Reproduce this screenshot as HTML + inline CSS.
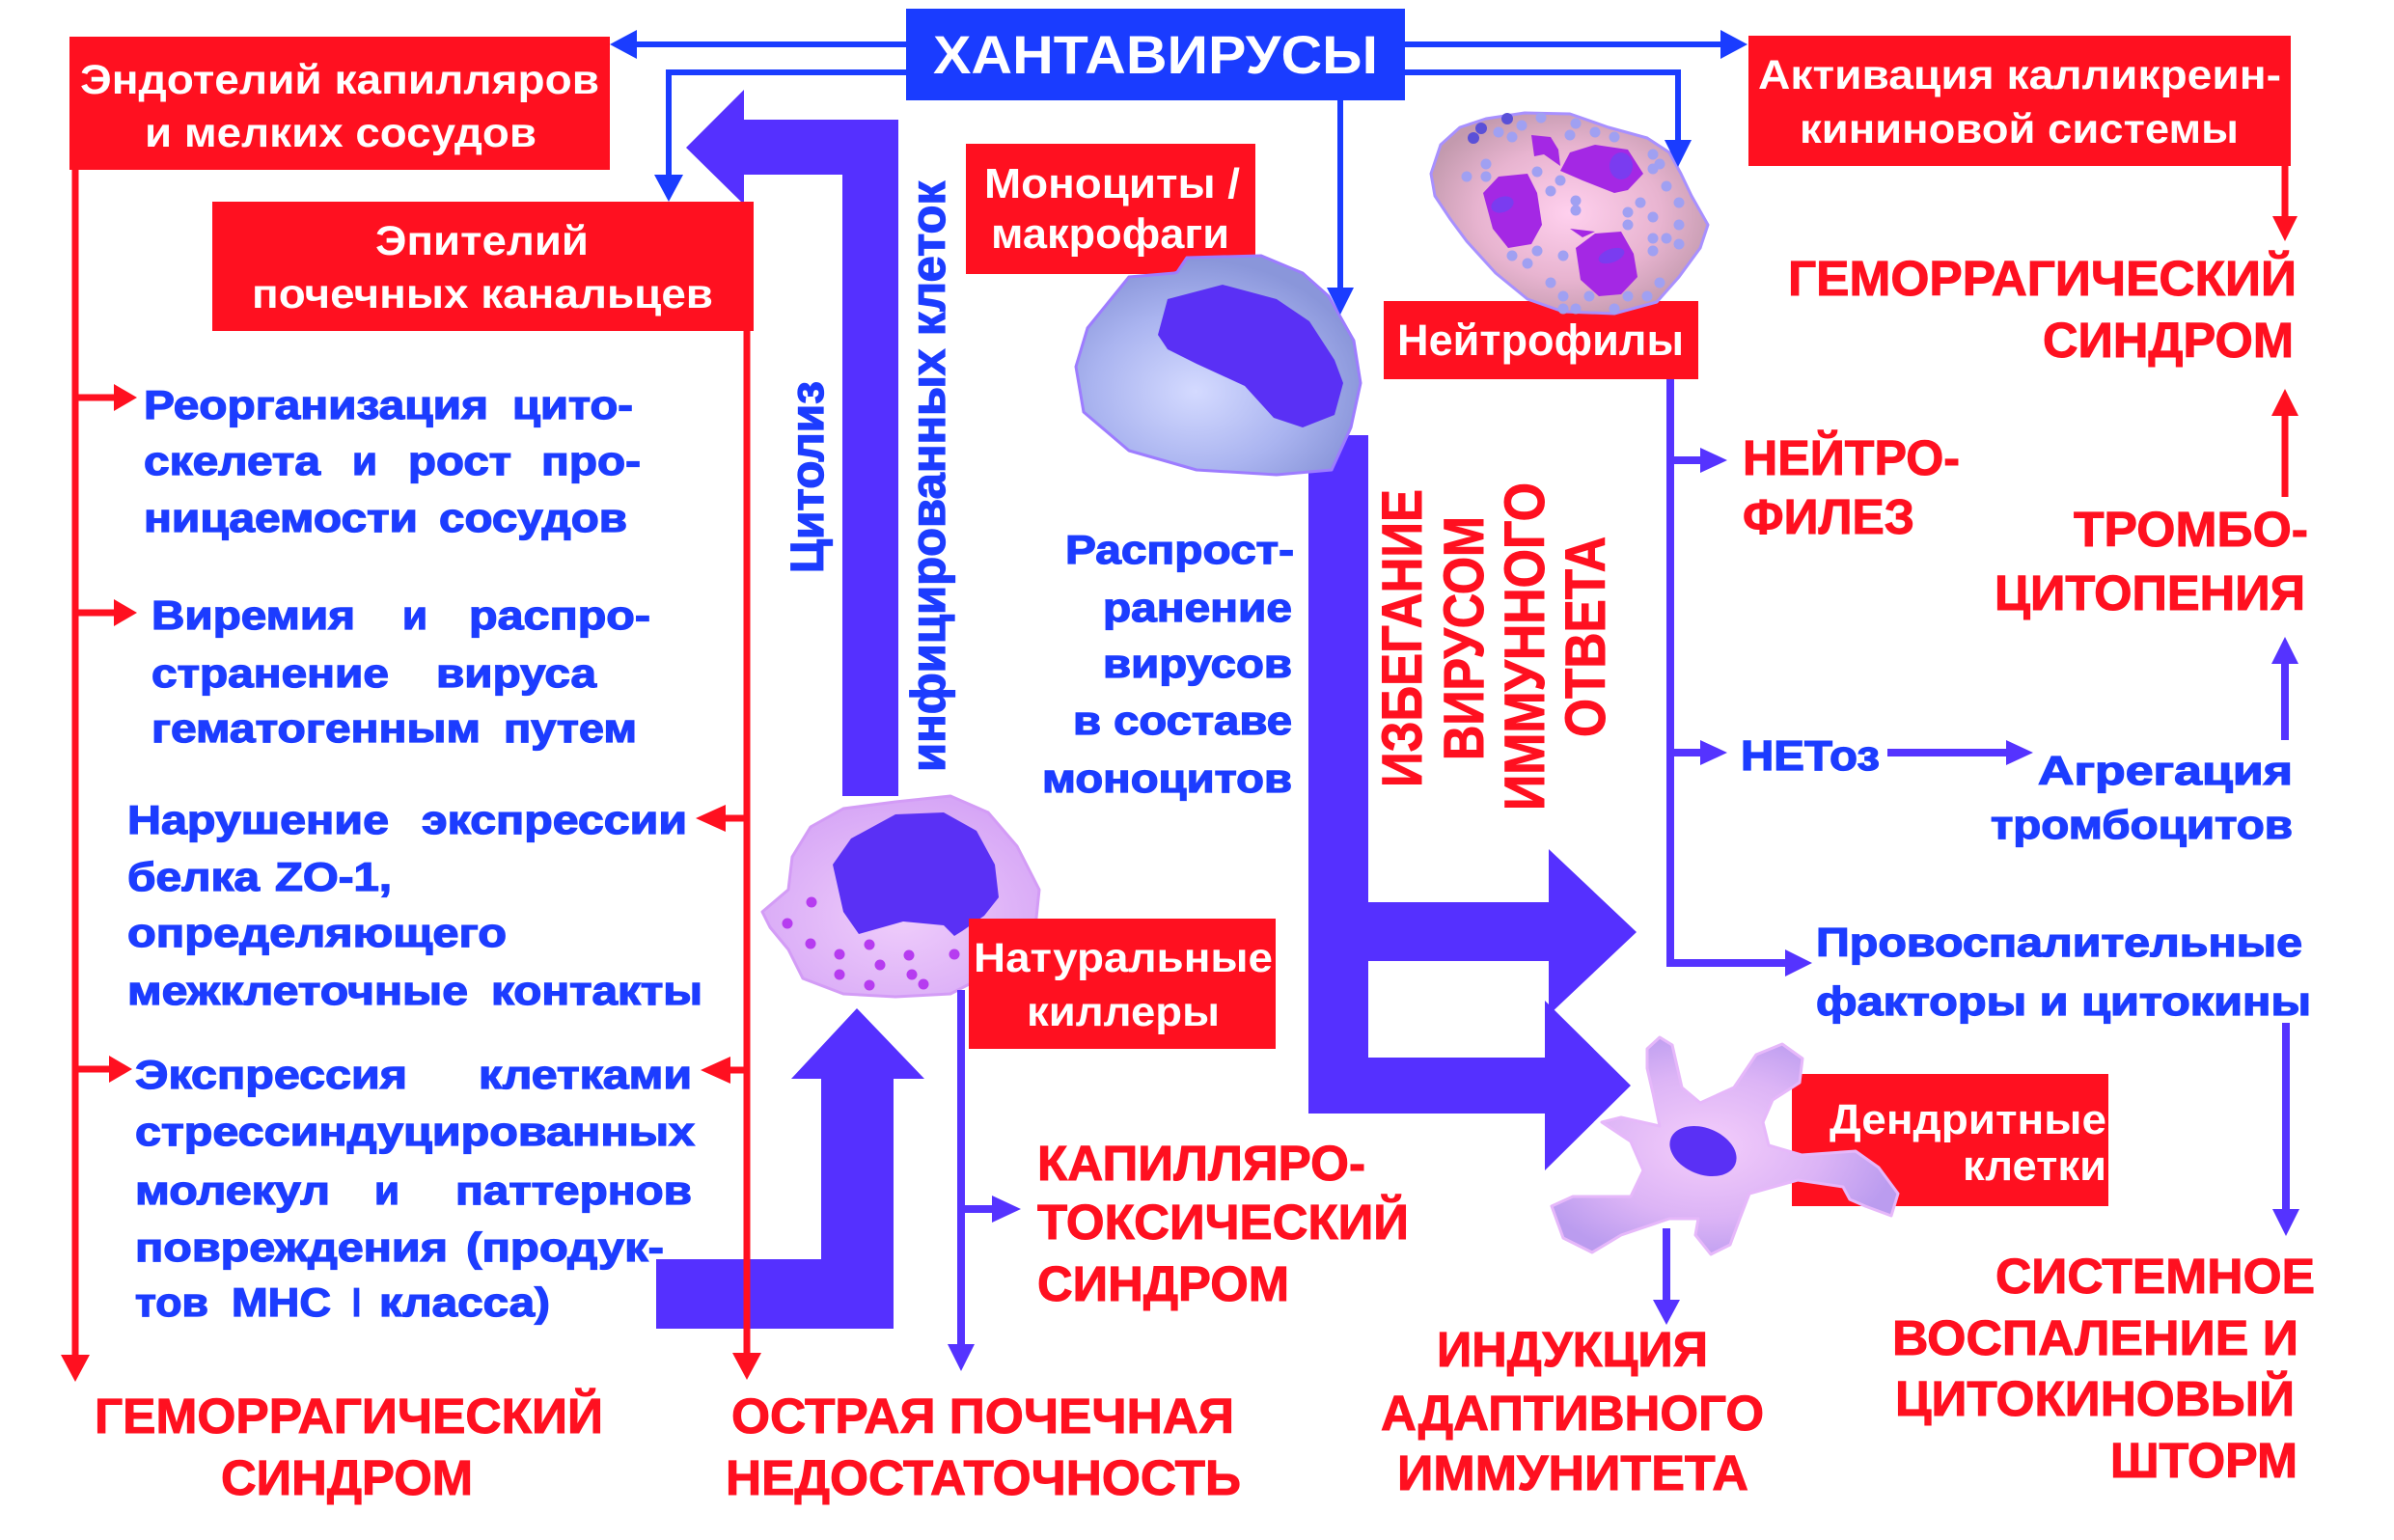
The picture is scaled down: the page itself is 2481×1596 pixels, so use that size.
<!DOCTYPE html>
<html><head><meta charset="utf-8"><style>
html,body{margin:0;padding:0;background:#fff;}
svg{display:block;}
text{font-family:"Liberation Sans",Arial,sans-serif;font-weight:bold;}
</style></head><body>
<svg width="2481" height="1596" viewBox="0 0 2481 1596" xmlns="http://www.w3.org/2000/svg">
<defs>
<radialGradient id="gMono" cx="0.42" cy="0.62" r="0.6"><stop offset="0" stop-color="#d4daff"/><stop offset="0.6" stop-color="#aab4f0"/><stop offset="1" stop-color="#8a96da"/></radialGradient>
<radialGradient id="gNeu" cx="0.5" cy="0.5" r="0.55"><stop offset="0" stop-color="#ffd0ee"/><stop offset="0.6" stop-color="#e8b4d0"/><stop offset="1" stop-color="#c39aae"/></radialGradient>
<radialGradient id="gNK" cx="0.5" cy="0.6" r="0.6"><stop offset="0" stop-color="#efcdfb"/><stop offset="1" stop-color="#d6a6f6"/></radialGradient>
<radialGradient id="gDC" cx="0.45" cy="0.5" r="0.55"><stop offset="0" stop-color="#f4cdfb"/><stop offset="0.6" stop-color="#dcb4f6"/><stop offset="1" stop-color="#bb9cef"/></radialGradient>
</defs>

<!-- big purple arrows -->
<polygon fill="#5530ff" points="711,153 771,93 771,124 931,124 931,825 873,825 873,181 771,181 771,212"/>
<polygon fill="#5530ff" points="680,1305 851,1305 851,1118 820,1118 888,1045 958,1118 926,1118 926,1377 680,1377"/>
<polygon fill="#5530ff" points="1356,451 1418,451 1418,935 1605,935 1605,880 1696,966 1605,1052 1605,996 1418,996 1418,1096 1601,1096 1601,1037 1690,1125 1601,1213 1601,1154 1356,1154"/>

<!-- boxes -->
<rect x="939" y="9" width="517" height="95" fill="#1a3cff"/>
<rect x="72" y="38" width="560" height="138" fill="#ff1020"/>
<rect x="220" y="209" width="561" height="134" fill="#ff1020"/>
<rect x="1001" y="149" width="300" height="135" fill="#ff1020"/>
<rect x="1434" y="312" width="326" height="81" fill="#ff1020"/>
<rect x="1812" y="37" width="562" height="135" fill="#ff1020"/>
<rect x="1857" y="1113" width="328" height="137" fill="#ff1020"/>

<!-- NK cell (under its box) -->
<polygon fill="url(#gNK)" stroke="#d39cf6" stroke-width="3" stroke-linejoin="round" points="790,945 817,922 821,888 840,857 874,838 928,831 985,825 1024,842 1054,877 1077,922 1073,961 1016,1014 985,1030 928,1033 874,1030 832,1014 817,984 798,961"/>
<polygon fill="#5a30f5" stroke-linejoin="round" points="863,896 882,869 928,844 978,842 1012,861 1031,896 1035,930 1020,949 997,965 989,970 978,959 936,955 890,968 874,945"/>
<g fill="#b63cf0">
<circle cx="841" cy="935" r="5.5"/><circle cx="816" cy="957" r="5.5"/><circle cx="840" cy="978" r="5.5"/><circle cx="870" cy="989" r="5.5"/><circle cx="901" cy="979" r="5.5"/><circle cx="912" cy="1000" r="5.5"/><circle cx="870" cy="1010" r="5.5"/><circle cx="901" cy="1021" r="5.5"/><circle cx="942" cy="990" r="5.5"/><circle cx="945" cy="1010" r="5.5"/><circle cx="957" cy="1020" r="5.5"/><circle cx="989" cy="989" r="5.5"/>
</g>
<rect x="1004" y="952" width="318" height="135" fill="#ff1020"/>

<!-- monocyte -->
<polygon fill="url(#gMono)" stroke="#9d7cff" stroke-width="3" stroke-linejoin="round" points="1220,282 1230,267 1307,265 1350,283 1377,307 1403,353 1410,397 1400,443 1380,487 1323,492 1240,487 1170,467 1123,427 1115,380 1127,340 1157,303 1170,287 1217,283"/>
<polygon fill="#5a30f5" stroke-linejoin="round" points="1200,347 1210,310 1267,295 1323,310 1357,333 1383,373 1392,397 1383,430 1350,443 1320,433 1290,400 1240,377 1210,362"/>

<!-- neutrophil -->
<polygon fill="url(#gNeu)" stroke="#a890ff" stroke-width="3" stroke-linejoin="round" points="1483,180 1493,150 1513,132 1540,123 1580,117 1627,118 1667,132 1707,143 1730,158 1742,180 1753,203 1770,233 1762,257 1740,287 1717,313 1673,325 1620,323 1583,310 1550,283 1520,250 1503,227 1487,203"/>
<g fill="#a0a0f2">
<circle cx="1540" cy="170" r="5.5"/><circle cx="1553" cy="137" r="5.5"/><circle cx="1567" cy="142" r="5.5"/><circle cx="1577" cy="130" r="5.5"/><circle cx="1597" cy="122" r="5.5"/><circle cx="1633" cy="128" r="5.5"/><circle cx="1653" cy="137" r="5.5"/><circle cx="1673" cy="142" r="5.5"/><circle cx="1627" cy="140" r="5.5"/><circle cx="1520" cy="183" r="5.5"/><circle cx="1540" cy="183" r="5.5"/><circle cx="1593" cy="178" r="5.5"/><circle cx="1617" cy="187" r="5.5"/><circle cx="1607" cy="198" r="5.5"/><circle cx="1633" cy="208" r="5.5"/><circle cx="1633" cy="218" r="5.5"/><circle cx="1687" cy="220" r="5.5"/><circle cx="1700" cy="210" r="5.5"/><circle cx="1713" cy="225" r="5.5"/><circle cx="1727" cy="193" r="5.5"/><circle cx="1740" cy="210" r="5.5"/><circle cx="1740" cy="233" r="5.5"/><circle cx="1713" cy="247" r="5.5"/><circle cx="1727" cy="247" r="5.5"/><circle cx="1740" cy="253" r="5.5"/><circle cx="1713" cy="260" r="5.5"/><circle cx="1687" cy="233" r="5.5"/><circle cx="1593" cy="260" r="5.5"/><circle cx="1567" cy="265" r="5.5"/><circle cx="1583" cy="273" r="5.5"/><circle cx="1620" cy="265" r="5.5"/><circle cx="1607" cy="293" r="5.5"/><circle cx="1620" cy="307" r="5.5"/><circle cx="1647" cy="307" r="5.5"/><circle cx="1687" cy="307" r="5.5"/><circle cx="1707" cy="307" r="5.5"/><circle cx="1720" cy="293" r="5.5"/><circle cx="1620" cy="320" r="5.5"/><circle cx="1633" cy="320" r="5.5"/><circle cx="1673" cy="320" r="5.5"/><circle cx="1713" cy="160" r="5.5"/><circle cx="1720" cy="170" r="5.5"/><circle cx="1713" cy="175" r="5.5"/>
</g>
<g fill="#5a50d8"><circle cx="1562" cy="123" r="6"/><circle cx="1535" cy="133" r="6"/><circle cx="1527" cy="143" r="6"/></g>
<g fill="#a428e4" stroke-linejoin="round">
<polygon points="1537,200 1553,183 1583,180 1593,200 1598,233 1587,253 1563,257 1547,237"/>
<polygon points="1617,177 1627,158 1653,150 1687,155 1703,180 1687,197 1673,200 1640,187"/>
<polygon points="1587,140 1607,142 1615,155 1617,172 1600,160 1590,162"/>
<polygon points="1633,257 1653,242 1680,240 1693,263 1697,287 1680,305 1657,307 1638,290"/>
<polygon points="1627,237 1653,240 1640,246"/>
</g>
<g fill="#7a3cf0"><ellipse cx="1557" cy="212" rx="12" ry="8" transform="rotate(-20 1557 212)"/><ellipse cx="1680" cy="172" rx="12" ry="14"/><ellipse cx="1670" cy="265" rx="14" ry="7" transform="rotate(-20 1670 265)"/></g>

<!-- dendritic cell -->
<polygon fill="url(#gDC)" stroke="#e6b8fa" stroke-width="3" stroke-linejoin="round" points="1707,1087 1720,1075 1733,1083 1743,1127 1762,1143 1797,1127 1820,1093 1847,1082 1868,1097 1865,1122 1837,1140 1827,1163 1833,1187 1867,1197 1923,1193 1947,1210 1967,1237 1960,1260 1933,1250 1917,1243 1910,1230 1863,1223 1813,1237 1803,1263 1793,1290 1773,1300 1757,1280 1760,1263 1730,1263 1680,1280 1650,1298 1620,1283 1608,1250 1630,1240 1690,1240 1703,1213 1690,1183 1660,1163 1680,1158 1720,1167 1713,1133 1707,1107"/>
<ellipse cx="1765" cy="1193" rx="36" ry="24" fill="#5a30f5" transform="rotate(22 1765 1193)"/>

<!-- blue connector lines -->
<g stroke="#1a3cff" stroke-width="6" fill="none">
<path d="M939,46 H656"/><path d="M939,75 H693 V184"/><path d="M1456,46 H1786"/><path d="M1456,75 H1739 V148"/><path d="M1389,104 V302"/>
</g>
<g fill="#1a3cff">
<polygon points="632,46 660,31 660,61"/><polygon points="693,209 678,181 708,181"/><polygon points="1811,46 1783,31 1783,61"/><polygon points="1739,173 1725,145 1753,145"/><polygon points="1389,326 1375,298 1403,298"/>
</g>

<!-- red connector lines -->
<g stroke="#ff1020" stroke-width="7" fill="none">
<path d="M78,176 V1406"/><path d="M78,412 H121"/><path d="M78,635 H121"/><path d="M78,1108 H116"/>
<path d="M774,343 V1404"/><path d="M774,848 H750"/><path d="M774,1109 H755"/>
<path d="M2368,172 V226"/><path d="M2368,515 V429"/>
</g>
<g fill="#ff1020">
<polygon points="78,1432 63,1404 93,1404"/><polygon points="142,412 118,398 118,426"/><polygon points="142,635 118,621 118,649"/><polygon points="137,1108 113,1094 113,1122"/>
<polygon points="774,1430 759,1402 789,1402"/><polygon points="721,848 752,834 752,862"/><polygon points="726,1109 757,1095 757,1123"/>
<polygon points="2368,250 2355,224 2381,224"/><polygon points="2368,403 2354,431 2382,431"/>
</g>

<!-- purple connector lines -->
<g stroke="#5533ff" stroke-width="8" fill="none">
<path d="M1731,393 V998 H1852"/><path d="M1731,477 H1764"/><path d="M1731,780 H1764"/><path d="M1956,780 H2081"/>
<path d="M2368,767 V686"/><path d="M2369,1060 V1255"/>
<path d="M996,1026 V1395"/><path d="M996,1253 H1030"/><path d="M1727,1273 V1347"/>
</g>
<g fill="#5533ff">
<polygon points="1878,998 1850,984 1850,1012"/><polygon points="1790,477 1762,464 1762,490"/><polygon points="1790,780 1762,767 1762,793"/><polygon points="2107,780 2079,767 2079,793"/>
<polygon points="2368,660 2354,688 2382,688"/><polygon points="2369,1281 2355,1253 2383,1253"/>
<polygon points="996,1421 982,1393 1010,1393"/><polygon points="1058,1253 1028,1239 1028,1267"/><polygon points="1727,1373 1713,1347 1741,1347"/>
</g>

<!-- box texts -->
<g fill="#ffffff">
<text x="967" y="76" font-size="56" textLength="461" lengthAdjust="spacingAndGlyphs">ХАНТАВИРУСЫ</text>
<text x="83" y="97" font-size="43" textLength="538" lengthAdjust="spacingAndGlyphs">Эндотелий капилляров</text>
<text x="150" y="152" font-size="43" textLength="406" lengthAdjust="spacingAndGlyphs">и мелких сосудов</text>
<text x="389" y="264" font-size="43" textLength="221" lengthAdjust="spacingAndGlyphs">Эпителий</text>
<text x="261" y="319" font-size="43" textLength="478" lengthAdjust="spacingAndGlyphs">почечных канальцев</text>
<text x="1020" y="205" font-size="44" textLength="265" lengthAdjust="spacingAndGlyphs">Моноциты /</text>
<text x="1027" y="257" font-size="44" textLength="247" lengthAdjust="spacingAndGlyphs">макрофаги</text>
<text x="1448" y="368" font-size="45" textLength="297" lengthAdjust="spacingAndGlyphs">Нейтрофилы</text>
<text x="1822" y="92" font-size="43" textLength="542" lengthAdjust="spacingAndGlyphs">Активация калликреин-</text>
<text x="1865" y="148" font-size="43" textLength="455" lengthAdjust="spacingAndGlyphs">кининовой системы</text>
<text x="1009" y="1007" font-size="43" textLength="310" lengthAdjust="spacingAndGlyphs">Натуральные</text>
<text x="1064" y="1063" font-size="43" textLength="200" lengthAdjust="spacingAndGlyphs">киллеры</text>
<text x="1896" y="1175" font-size="44" textLength="287" lengthAdjust="spacingAndGlyphs">Дендритные</text>
<text x="2034" y="1223" font-size="44" textLength="149" lengthAdjust="spacingAndGlyphs">клетки</text>
</g>

<!-- blue body text -->
<g fill="#1c3cff" stroke="#1c3cff" stroke-width="1.3" font-size="42">
<text x="149" y="434" textLength="357" lengthAdjust="spacingAndGlyphs">Реорганизация</text>
<text x="531" y="434" textLength="125" lengthAdjust="spacingAndGlyphs">цито-</text>
<text x="149" y="492" textLength="183" lengthAdjust="spacingAndGlyphs">скелета</text>
<text x="365" y="492" textLength="26" lengthAdjust="spacingAndGlyphs">и</text>
<text x="423" y="492" textLength="107" lengthAdjust="spacingAndGlyphs">рост</text>
<text x="561" y="492" textLength="103" lengthAdjust="spacingAndGlyphs">про-</text>
<text x="149" y="551" textLength="284" lengthAdjust="spacingAndGlyphs">ницаемости</text>
<text x="455" y="551" textLength="195" lengthAdjust="spacingAndGlyphs">сосудов</text>
<text x="157" y="652" textLength="211" lengthAdjust="spacingAndGlyphs">Виремия</text>
<text x="417" y="652" textLength="26" lengthAdjust="spacingAndGlyphs">и</text>
<text x="486" y="652" textLength="188" lengthAdjust="spacingAndGlyphs">распро-</text>
<text x="157" y="712" textLength="246" lengthAdjust="spacingAndGlyphs">странение</text>
<text x="452" y="712" textLength="166" lengthAdjust="spacingAndGlyphs">вируса</text>
<text x="157" y="769" textLength="341" lengthAdjust="spacingAndGlyphs">гематогенным</text>
<text x="522" y="769" textLength="138" lengthAdjust="spacingAndGlyphs">путем</text>
<text x="132" y="864" textLength="271" lengthAdjust="spacingAndGlyphs">Нарушение</text>
<text x="437" y="864" textLength="275" lengthAdjust="spacingAndGlyphs">экспрессии</text>
<text x="132" y="923" textLength="137" lengthAdjust="spacingAndGlyphs">белка</text>
<text x="285" y="923" textLength="121" lengthAdjust="spacingAndGlyphs">ZO-1,</text>
<text x="132" y="981" textLength="393" lengthAdjust="spacingAndGlyphs">определяющего</text>
<text x="132" y="1041" textLength="353" lengthAdjust="spacingAndGlyphs">межклеточные</text>
<text x="509" y="1041" textLength="219" lengthAdjust="spacingAndGlyphs">контакты</text>
<text x="140" y="1128" textLength="282" lengthAdjust="spacingAndGlyphs">Экспрессия</text>
<text x="496" y="1128" textLength="221" lengthAdjust="spacingAndGlyphs">клетками</text>
<text x="140" y="1187" textLength="580" lengthAdjust="spacingAndGlyphs">стрессиндуцированных</text>
<text x="140" y="1248" textLength="202" lengthAdjust="spacingAndGlyphs">молекул</text>
<text x="388" y="1248" textLength="26" lengthAdjust="spacingAndGlyphs">и</text>
<text x="472" y="1248" textLength="245" lengthAdjust="spacingAndGlyphs">паттернов</text>
<text x="140" y="1307" textLength="324" lengthAdjust="spacingAndGlyphs">повреждения</text>
<text x="483" y="1307" textLength="205" lengthAdjust="spacingAndGlyphs">(продук-</text>
<text x="140" y="1364" textLength="76" lengthAdjust="spacingAndGlyphs">тов</text>
<text x="240" y="1364" textLength="103" lengthAdjust="spacingAndGlyphs">MHC</text>
<text x="365" y="1364" textLength="9" lengthAdjust="spacingAndGlyphs">I</text>
<text x="393" y="1364" textLength="177" lengthAdjust="spacingAndGlyphs">класса)</text>

<text x="1104" y="584" textLength="237" lengthAdjust="spacingAndGlyphs">Распрост-</text>
<text x="1143" y="644" textLength="196" lengthAdjust="spacingAndGlyphs">ранение</text>
<text x="1143" y="702" textLength="196" lengthAdjust="spacingAndGlyphs">вирусов</text>
<text x="1112" y="761" textLength="227" lengthAdjust="spacingAndGlyphs">в составе</text>
<text x="1080" y="821" textLength="259" lengthAdjust="spacingAndGlyphs">моноцитов</text>

<text x="1804" y="798" font-size="44" textLength="144" lengthAdjust="spacingAndGlyphs">НЕТоз</text>
<text x="2112" y="813" textLength="264" lengthAdjust="spacingAndGlyphs">Агрегация</text>
<text x="2063" y="869" textLength="313" lengthAdjust="spacingAndGlyphs">тромбоцитов</text>
<text x="1882" y="991" textLength="504" lengthAdjust="spacingAndGlyphs">Провоспалительные</text>
<text x="1882" y="1052" textLength="513" lengthAdjust="spacingAndGlyphs">факторы  и цитокины</text>

<text transform="translate(853,594) rotate(-90)" font-size="48" textLength="199" lengthAdjust="spacingAndGlyphs">Цитолиз</text>
<text transform="translate(979,800) rotate(-90)" font-size="50" textLength="612" lengthAdjust="spacingAndGlyphs">инфицированных клеток</text>
</g>

<!-- red caption text -->
<g fill="#ff1020" stroke="#ff1020" stroke-width="1" font-size="51">
<text x="1853" y="306" textLength="527" lengthAdjust="spacingAndGlyphs">ГЕМОРРАГИЧЕСКИЙ</text>
<text x="2117" y="370" textLength="260" lengthAdjust="spacingAndGlyphs">СИНДРОМ</text>
<text x="1806" y="492" textLength="225" lengthAdjust="spacingAndGlyphs">НЕЙТРО-</text>
<text x="1806" y="553" textLength="178" lengthAdjust="spacingAndGlyphs">ФИЛЕЗ</text>
<text x="2149" y="566" textLength="243" lengthAdjust="spacingAndGlyphs">ТРОМБО-</text>
<text x="2067" y="632" textLength="322" lengthAdjust="spacingAndGlyphs">ЦИТОПЕНИЯ</text>
<text x="1075" y="1223" textLength="340" lengthAdjust="spacingAndGlyphs">КАПИЛЛЯРО-</text>
<text x="1075" y="1284" textLength="385" lengthAdjust="spacingAndGlyphs">ТОКСИЧЕСКИЙ</text>
<text x="1075" y="1348" textLength="261" lengthAdjust="spacingAndGlyphs">СИНДРОМ</text>
<text x="1489" y="1416" textLength="281" lengthAdjust="spacingAndGlyphs">ИНДУКЦИЯ</text>
<text x="1431" y="1482" textLength="397" lengthAdjust="spacingAndGlyphs">АДАПТИВНОГО</text>
<text x="1448" y="1544" textLength="364" lengthAdjust="spacingAndGlyphs">ИММУНИТЕТА</text>
<text x="2068" y="1340" textLength="331" lengthAdjust="spacingAndGlyphs">СИСТЕМНОЕ</text>
<text x="1961" y="1404" textLength="421" lengthAdjust="spacingAndGlyphs">ВОСПАЛЕНИЕ  И</text>
<text x="1964" y="1467" textLength="414" lengthAdjust="spacingAndGlyphs">ЦИТОКИНОВЫЙ</text>
<text x="2187" y="1531" textLength="194" lengthAdjust="spacingAndGlyphs">ШТОРМ</text>
<text x="98" y="1485" textLength="527" lengthAdjust="spacingAndGlyphs">ГЕМОРРАГИЧЕСКИЙ</text>
<text x="229" y="1549" textLength="261" lengthAdjust="spacingAndGlyphs">СИНДРОМ</text>
<text x="758" y="1485" textLength="521" lengthAdjust="spacingAndGlyphs">ОСТРАЯ ПОЧЕЧНАЯ</text>
<text x="752" y="1549" textLength="534" lengthAdjust="spacingAndGlyphs">НЕДОСТАТОЧНОСТЬ</text>

<text transform="translate(1473,816) rotate(-90)" font-size="58" textLength="309" lengthAdjust="spacingAndGlyphs">ИЗБЕГАНИЕ</text>
<text transform="translate(1537,788) rotate(-90)" font-size="58" textLength="253" lengthAdjust="spacingAndGlyphs">ВИРУСОМ</text>
<text transform="translate(1600,840) rotate(-90)" font-size="58" textLength="340" lengthAdjust="spacingAndGlyphs">ИММУННОГО</text>
<text transform="translate(1663,764) rotate(-90)" font-size="58" textLength="208" lengthAdjust="spacingAndGlyphs">ОТВЕТА</text>
</g>
</svg>
</body></html>
